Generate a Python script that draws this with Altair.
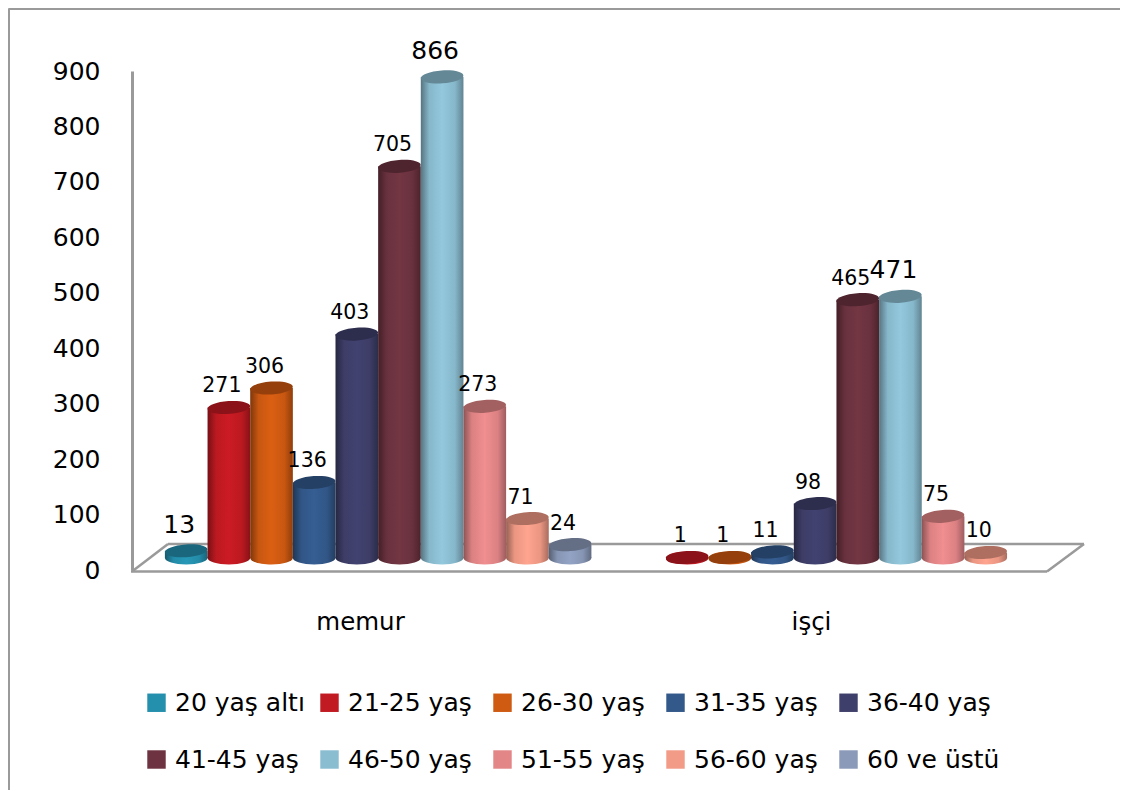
import altair as alt
import pandas as pd

ages = ["20 yaş altı", "21-25 yaş", "26-30 yaş", "31-35 yaş", "36-40 yaş",
        "41-45 yaş", "46-50 yaş", "51-55 yaş", "56-60 yaş", "60 ve üstü"]
groups = ["memur", "işçi"]
memur_values = [13, 271, 306, 136, 403, 705, 866, 273, 71, 24]
isci_values = [None, 1, 1, 11, 98, 465, 471, 75, 10, None]
colors = ["#2590ae", "#c11a22", "#cf5a12", "#33598b", "#3f3f6b",
          "#6d3340", "#8bbdd1", "#e38688", "#f29b87", "#8b9ab9"]
y_ticks = [0, 100, 200, 300, 400, 500, 600, 700, 800, 900]
big_labels = [13, 866, 471]

FONT = "DejaVu Sans"
X0, Y0 = 132, 40
W, H = 952, 532
ELLIPSE = "M-1,0A1,0.3,0,1,1,1,0A1,0.3,0,1,1,-1,0Z"


def shade(hex_color, k):
    rgb = [int(hex_color[i:i + 2], 16) for i in (1, 3, 5)]
    return "#" + "".join(f"{min(255, int(c * k)):02x}" for c in rgb)


def cyl(hex_color):
    return alt.LinearGradient(
        gradient="linear", x1=0, x2=1, y1=0, y2=0,
        stops=[
            alt.GradientStop(color=shade(hex_color, 0.62), offset=0),
            alt.GradientStop(color=shade(hex_color, 0.97), offset=0.2),
            alt.GradientStop(color=shade(hex_color, 1.06), offset=0.5),
            alt.GradientStop(color=shade(hex_color, 0.97), offset=0.8),
            alt.GradientStop(color=shade(hex_color, 0.7), offset=1),
        ],
    )


rows = []
for a, m, i in zip(ages, memur_values, isci_values):
    rows.append({"group": "memur", "age": a, "value": m})
    if i is not None:
        rows.append({"group": "işçi", "age": a, "value": i})
df = pd.DataFrame(rows)

x_scale = alt.Scale(domain=groups, range=[149 - X0, 149 - X0 + 916.6], paddingInner=0, paddingOuter=0)
x_axis_scale = alt.Scale(domain=groups, range=[134.5 - X0, 134.5 - X0 + 902], paddingInner=0, paddingOuter=0)
off_scale = alt.Scale(domain=ages, paddingInner=0, paddingOuter=0.3727)
bar_y = alt.Scale(domain=[0, 900], range=[558 - Y0, 58 - Y0], nice=False)
axis_y = alt.Scale(domain=[0, 900], range=[570 - Y0, 71 - Y0], nice=False)

x_enc = alt.X("group:N", scale=x_scale, sort=groups, axis=None)
xo_enc = alt.XOffset("age:N", scale=off_scale, sort=ages)
y_enc = alt.Y("value:Q", scale=bar_y, axis=None)

GRAY = "#9a9a9a"


def edge(x1, y1, x2, y2, width=2.5, color=GRAY):
    return alt.Chart().mark_rule(color=color, strokeWidth=width).encode(
        x=alt.value(x1 - X0), x2=alt.value(x2 - X0),
        y=alt.value(y1 - Y0), y2=alt.value(y2 - Y0))


frame = [edge(8.5, 8.5, 1120, 8.5, 3), edge(8.5, 8.5, 8.5, 790, 3)]
floor = [
    edge(168, 544, 1084, 544),
    edge(132, 571.5, 168, 544),
    edge(1047, 571.5, 1084, 544),
    edge(131, 571.5, 1047, 571.5),
]

axis_layer = alt.Chart(pd.DataFrame({"tick": y_ticks[:2], "group": groups})).mark_point(opacity=0).encode(
    x=alt.X("group:N", scale=x_axis_scale, sort=groups,
            axis=alt.Axis(title=None, domain=False, ticks=False, labelAngle=0, labelFontSize=24.5,
                          labelPadding=38, labelColor="black", labelFont=FONT)),
    y=alt.Y("tick:Q", scale=axis_y,
            axis=alt.Axis(title=None, values=y_ticks, ticks=False, grid=False, domainColor=GRAY,
                          domainWidth=3, labelFontSize=25, labelPadding=32, labelColor="black",
                          labelFont=FONT)),
)

legend_layer = alt.Chart(df).mark_point(filled=True, opacity=0, shape="square").encode(
    x=x_enc, xOffset=xo_enc, y=y_enc,
    color=alt.Color("age:N", sort=ages, scale=alt.Scale(domain=ages, range=colors),
                    legend=alt.Legend(title=None, orient="none", direction="horizontal",
                                      legendX=144 - X0, legendY=690 - Y0,
                                      columns=5, gridAlign="all", symbolType="square", symbolSize=340,
                                      symbolOpacity=1, symbolStrokeWidth=0, labelFontSize=25,
                                      labelFont=FONT, labelColor="black", labelOffset=6,
                                      columnPadding=9, rowPadding=31, labelLimit=220, padding=0)),
)

bars = []
for age, c in zip(ages, colors):
    d = df[df.age == age]
    base = alt.Chart(d)
    bars.append(base.transform_calculate(zero="0").mark_point(
        shape=ELLIPSE, size=1819, filled=True, fill=cyl(c), opacity=1, strokeWidth=0
    ).encode(x=x_enc, xOffset=xo_enc, y=alt.Y("zero:Q", scale=bar_y, axis=None)))
    bars.append(base.mark_bar(color=cyl(c), strokeWidth=0).encode(x=x_enc, xOffset=xo_enc, y=y_enc))
    bars.append(base.mark_point(
        shape=ELLIPSE, size=1819, filled=True, fill=shade(c, 0.72), opacity=1, strokeWidth=0, angle=356
    ).encode(x=x_enc, xOffset=xo_enc, y=y_enc))

is_big = alt.FieldOneOfPredicate(field="value", oneOf=big_labels)
big = alt.Chart(df).transform_filter(is_big).mark_text(
    dx=-7, dy=-26, font=FONT, fontSize=25, color="black", baseline="middle"
).encode(x=x_enc, xOffset=xo_enc, y=y_enc, text=alt.Text("value:Q"))
small = alt.Chart(df).transform_filter(alt.LogicalNotPredicate(**{"not": is_big})).mark_text(
    dx=-7, dy=-21, font=FONT, fontSize=20.5, color="black", baseline="middle"
).encode(x=x_enc, xOffset=xo_enc, y=y_enc, text=alt.Text("value:Q"))

chart = alt.layer(
    *frame,
    axis_layer,
    alt.layer(*floor, legend_layer, *bars, small, big),
).resolve_scale(y="independent", x="independent").properties(
    width=W, height=H,
    background="white",
    autosize=alt.AutoSizeParams(type="none"),
    padding={"left": X0 - 8, "top": Y0 - 8, "right": 36, "bottom": 218},
).configure_view(stroke=None)

chart.save("out.html", embed_options={"renderer": "svg", "actions": False})
